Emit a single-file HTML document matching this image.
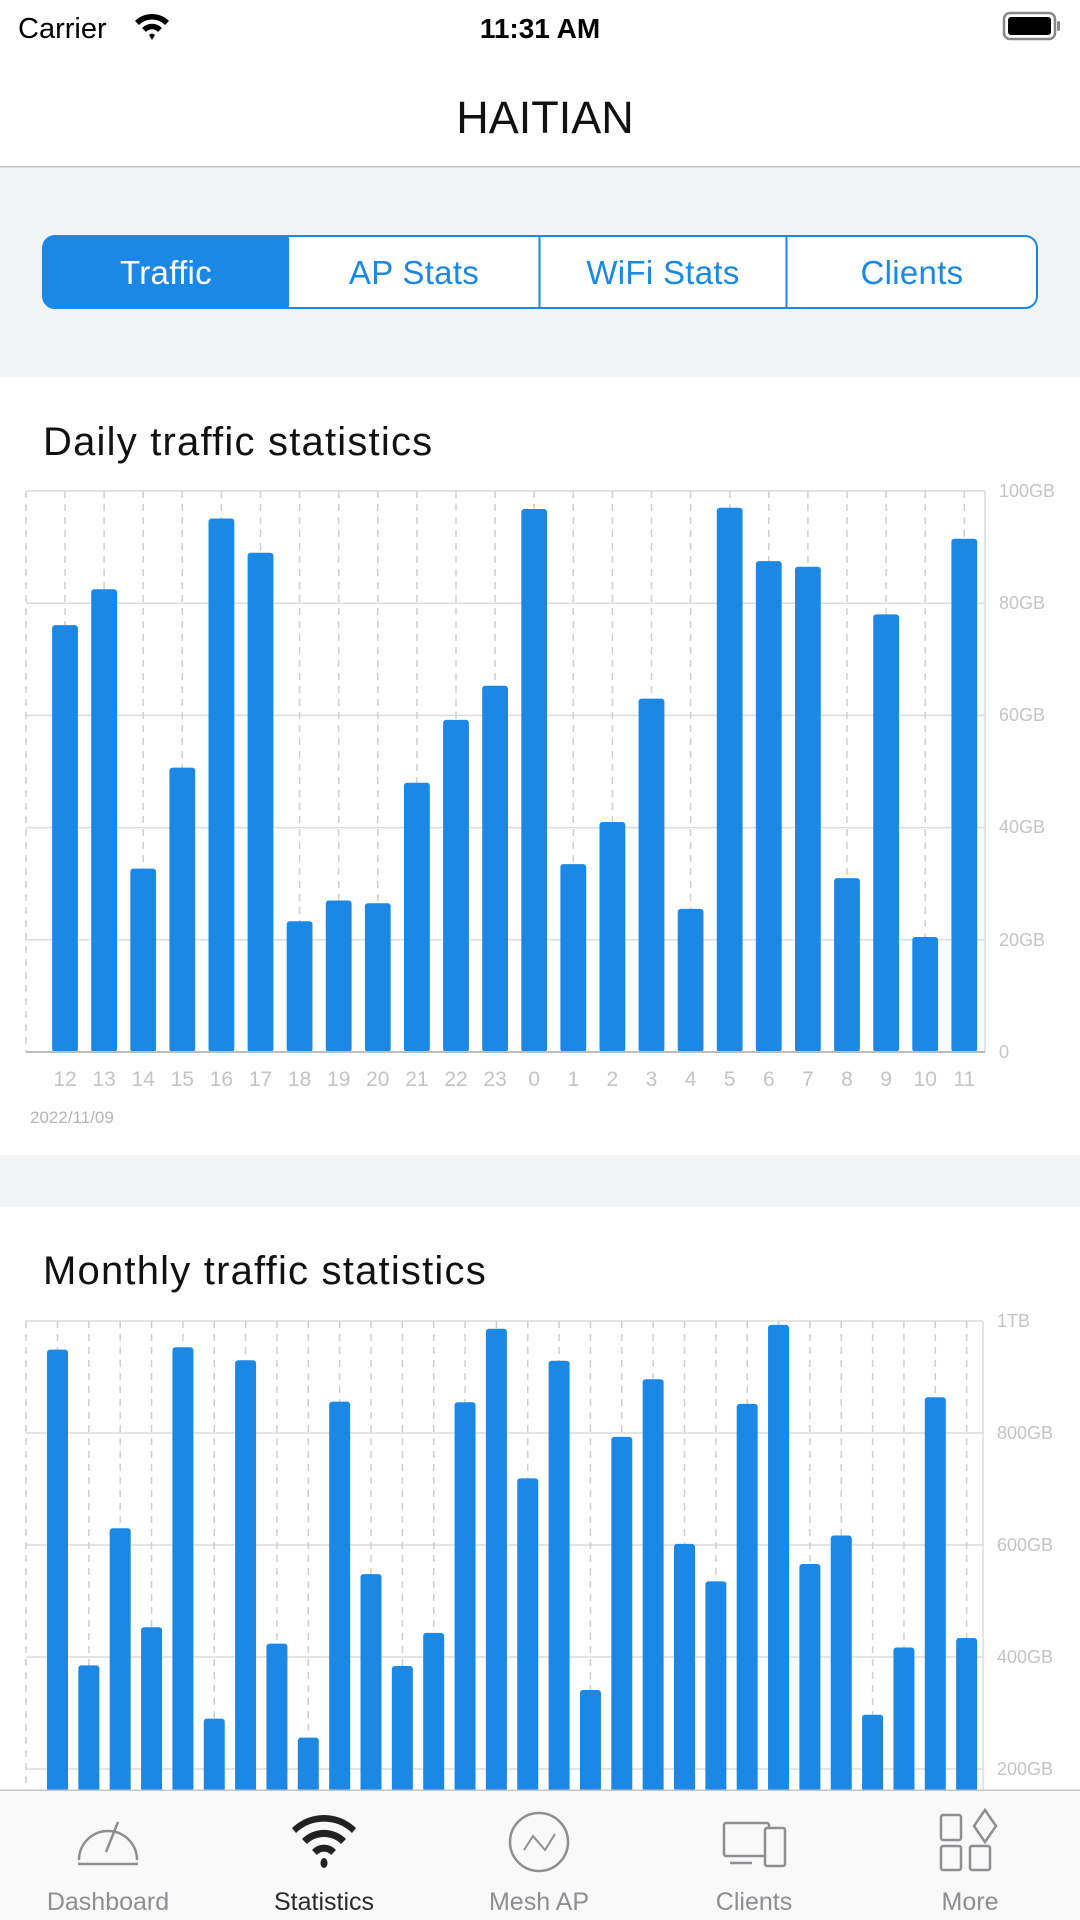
<!DOCTYPE html>
<html><head><meta charset="utf-8"><style>
html,body{margin:0;padding:0;background:#fff;width:1080px;height:1920px;overflow:hidden}
svg{display:block}
text{font-family:"Liberation Sans",sans-serif}
</style></head><body>
<svg width="1080" height="1920" viewBox="0 0 1080 1920" xmlns="http://www.w3.org/2000/svg">
<rect width="1080" height="1920" fill="#fff"/>
<text x="18" y="38" font-size="29" fill="#000">Carrier</text>
<g fill="#000" transform="translate(152,27)">
<path d="M-17,-6 A24,24 0 0 1 17,-6 L13,-2 A18,18 0 0 0 -13,-2Z"/>
<path d="M-10,1 A14,14 0 0 1 10,1 L6,5 A8,8 0 0 0 -6,5Z"/>
<path d="M-3,8 L0,13 L3,8 A4,4 0 0 0 -3,8Z"/>
</g>
<text x="540" y="38" font-size="28" font-weight="bold" text-anchor="middle" fill="#000">11:31 AM</text>
<rect x="1004" y="13" width="51" height="26" rx="6" fill="none" stroke="#888" stroke-width="2.5"/>
<rect x="1008" y="17" width="43" height="18" rx="3" fill="#000"/>
<rect x="1057" y="21" width="3" height="10" rx="1.5" fill="#888"/>
<text x="545" y="133" font-size="45" text-anchor="middle" fill="#111">HAITIAN</text>
<rect x="0" y="167" width="1080" height="210" fill="#f3f4f6"/>
<rect x="0" y="166" width="1080" height="1.5" fill="#c6c6c8"/>
<rect x="43" y="236" width="994" height="72" rx="12" fill="#fff" stroke="#1c88e5" stroke-width="2"/>
<path d="M55,236 L289,236 L289,308 L55,308 A12,12 0 0 1 43,296 L43,248 A12,12 0 0 1 55,236Z" fill="#1c88e5"/>
<rect x="538.5" y="236" width="2" height="72" fill="#1c88e5"/>
<rect x="785.5" y="236" width="2" height="72" fill="#1c88e5"/>
<g font-size="33" text-anchor="middle" fill="#1c88e5" letter-spacing="0.3">
<text x="166" y="284" fill="#fff">Traffic</text>
<text x="414" y="284">AP Stats</text>
<text x="663" y="284">WiFi Stats</text>
<text x="912" y="284">Clients</text>
</g>
<text x="43" y="455" font-size="40" fill="#111" letter-spacing="1.2">Daily traffic statistics</text>
<g stroke="#dcdcdc" stroke-width="1.5">
<line x1="26" y1="491" x2="985" y2="491"/><line x1="26" y1="603.2" x2="985" y2="603.2"/>
<line x1="26" y1="715.4" x2="985" y2="715.4"/><line x1="26" y1="827.6" x2="985" y2="827.6"/>
<line x1="26" y1="939.8" x2="985" y2="939.8"/>
<line x1="985" y1="491" x2="985" y2="1052"/>
</g>
<g stroke="#cfcfcf" stroke-width="1.5" stroke-dasharray="7,6">
<line x1="26" y1="491" x2="26" y2="1052"/>
<line x1="65" y1="491" x2="65" y2="1052"/><line x1="104.1" y1="491" x2="104.1" y2="1052"/><line x1="143.2" y1="491" x2="143.2" y2="1052"/><line x1="182.3" y1="491" x2="182.3" y2="1052"/><line x1="221.4" y1="491" x2="221.4" y2="1052"/><line x1="260.5" y1="491" x2="260.5" y2="1052"/><line x1="299.6" y1="491" x2="299.6" y2="1052"/><line x1="338.7" y1="491" x2="338.7" y2="1052"/><line x1="377.8" y1="491" x2="377.8" y2="1052"/><line x1="416.9" y1="491" x2="416.9" y2="1052"/><line x1="456" y1="491" x2="456" y2="1052"/><line x1="495.1" y1="491" x2="495.1" y2="1052"/><line x1="534.2" y1="491" x2="534.2" y2="1052"/><line x1="573.3" y1="491" x2="573.3" y2="1052"/><line x1="612.4" y1="491" x2="612.4" y2="1052"/><line x1="651.5" y1="491" x2="651.5" y2="1052"/><line x1="690.6" y1="491" x2="690.6" y2="1052"/><line x1="729.7" y1="491" x2="729.7" y2="1052"/><line x1="768.8" y1="491" x2="768.8" y2="1052"/><line x1="807.9" y1="491" x2="807.9" y2="1052"/><line x1="847" y1="491" x2="847" y2="1052"/><line x1="886.1" y1="491" x2="886.1" y2="1052"/><line x1="925.2" y1="491" x2="925.2" y2="1052"/><line x1="964.3" y1="491" x2="964.3" y2="1052"/>
</g>
<g fill="#1c88e5">
<rect x="52.1" y="625.1" width="25.8" height="426.9" rx="3"/>
<rect x="91.2" y="589.2" width="25.8" height="462.8" rx="3"/>
<rect x="130.3" y="868.6" width="25.8" height="183.4" rx="3"/>
<rect x="169.4" y="767.6" width="25.8" height="284.4" rx="3"/>
<rect x="208.5" y="518.5" width="25.8" height="533.5" rx="3"/>
<rect x="247.6" y="552.7" width="25.8" height="499.3" rx="3"/>
<rect x="286.7" y="921.3" width="25.8" height="130.7" rx="3"/>
<rect x="325.8" y="900.5" width="25.8" height="151.5" rx="3"/>
<rect x="364.9" y="903.3" width="25.8" height="148.7" rx="3"/>
<rect x="404" y="782.7" width="25.8" height="269.3" rx="3"/>
<rect x="443.1" y="719.9" width="25.8" height="332.1" rx="3"/>
<rect x="482.2" y="685.7" width="25.8" height="366.3" rx="3"/>
<rect x="521.3" y="509" width="25.8" height="543" rx="3"/>
<rect x="560.4" y="864.1" width="25.8" height="187.9" rx="3"/>
<rect x="599.5" y="822" width="25.8" height="230" rx="3"/>
<rect x="638.6" y="698.6" width="25.8" height="353.4" rx="3"/>
<rect x="677.7" y="908.9" width="25.8" height="143.1" rx="3"/>
<rect x="716.8" y="507.8" width="25.8" height="544.2" rx="3"/>
<rect x="755.9" y="561.1" width="25.8" height="490.9" rx="3"/>
<rect x="795" y="566.7" width="25.8" height="485.3" rx="3"/>
<rect x="834.1" y="878.1" width="25.8" height="173.9" rx="3"/>
<rect x="873.2" y="614.4" width="25.8" height="437.6" rx="3"/>
<rect x="912.3" y="937" width="25.8" height="115" rx="3"/>
<rect x="951.4" y="538.7" width="25.8" height="513.3" rx="3"/>
</g>
<line x1="26" y1="1052" x2="985" y2="1052" stroke="#bdbdbd" stroke-width="2"/>
<g font-size="18" fill="#c4c4c8">
<text x="999" y="497">100GB</text><text x="999" y="609">80GB</text><text x="999" y="721">60GB</text>
<text x="999" y="833">40GB</text><text x="999" y="946">20GB</text><text x="999" y="1058">0</text>
</g>
<g font-size="21" fill="#c4c4c8" text-anchor="middle">
<text x="65" y="1086">12</text><text x="104.1" y="1086">13</text><text x="143.2" y="1086">14</text><text x="182.3" y="1086">15</text><text x="221.4" y="1086">16</text><text x="260.5" y="1086">17</text><text x="299.6" y="1086">18</text><text x="338.7" y="1086">19</text><text x="377.8" y="1086">20</text><text x="416.9" y="1086">21</text><text x="456" y="1086">22</text><text x="495.1" y="1086">23</text><text x="534.2" y="1086">0</text><text x="573.3" y="1086">1</text><text x="612.4" y="1086">2</text><text x="651.5" y="1086">3</text><text x="690.6" y="1086">4</text><text x="729.7" y="1086">5</text><text x="768.8" y="1086">6</text><text x="807.9" y="1086">7</text><text x="847" y="1086">8</text><text x="886.1" y="1086">9</text><text x="925.2" y="1086">10</text><text x="964.3" y="1086">11</text>
</g>
<text x="30" y="1123" font-size="17" fill="#b5b5b8">2022/11/09</text>
<rect x="0" y="1155" width="1080" height="52" fill="#f3f4f6"/>
<text x="43" y="1284" font-size="40" fill="#111" letter-spacing="1.2">Monthly traffic statistics</text>
<g stroke="#dcdcdc" stroke-width="1.5">
<line x1="26" y1="1321" x2="983" y2="1321"/><line x1="26" y1="1433" x2="983" y2="1433"/>
<line x1="26" y1="1545" x2="983" y2="1545"/><line x1="26" y1="1657" x2="983" y2="1657"/>
<line x1="26" y1="1769" x2="983" y2="1769"/>
<line x1="983" y1="1321" x2="983" y2="1881"/>
</g>
<g stroke="#cfcfcf" stroke-width="1.5" stroke-dasharray="7,6">
<line x1="26" y1="1321" x2="26" y2="1881"/>
<line x1="57.5" y1="1321" x2="57.5" y2="1881"/><line x1="88.85" y1="1321" x2="88.85" y2="1881"/><line x1="120.2" y1="1321" x2="120.2" y2="1881"/><line x1="151.55" y1="1321" x2="151.55" y2="1881"/><line x1="182.9" y1="1321" x2="182.9" y2="1881"/><line x1="214.25" y1="1321" x2="214.25" y2="1881"/><line x1="245.6" y1="1321" x2="245.6" y2="1881"/><line x1="276.95" y1="1321" x2="276.95" y2="1881"/><line x1="308.3" y1="1321" x2="308.3" y2="1881"/><line x1="339.65" y1="1321" x2="339.65" y2="1881"/><line x1="371" y1="1321" x2="371" y2="1881"/><line x1="402.35" y1="1321" x2="402.35" y2="1881"/><line x1="433.7" y1="1321" x2="433.7" y2="1881"/><line x1="465.05" y1="1321" x2="465.05" y2="1881"/><line x1="496.4" y1="1321" x2="496.4" y2="1881"/><line x1="527.75" y1="1321" x2="527.75" y2="1881"/><line x1="559.1" y1="1321" x2="559.1" y2="1881"/><line x1="590.45" y1="1321" x2="590.45" y2="1881"/><line x1="621.8" y1="1321" x2="621.8" y2="1881"/><line x1="653.15" y1="1321" x2="653.15" y2="1881"/><line x1="684.5" y1="1321" x2="684.5" y2="1881"/><line x1="715.85" y1="1321" x2="715.85" y2="1881"/><line x1="747.2" y1="1321" x2="747.2" y2="1881"/><line x1="778.55" y1="1321" x2="778.55" y2="1881"/><line x1="809.9" y1="1321" x2="809.9" y2="1881"/><line x1="841.25" y1="1321" x2="841.25" y2="1881"/><line x1="872.6" y1="1321" x2="872.6" y2="1881"/><line x1="903.95" y1="1321" x2="903.95" y2="1881"/><line x1="935.3" y1="1321" x2="935.3" y2="1881"/><line x1="966.65" y1="1321" x2="966.65" y2="1881"/>
</g>
<g fill="#1c88e5">
<rect x="47" y="1349.6" width="21" height="540" rx="3"/>
<rect x="78.35" y="1665.4" width="21" height="240" rx="3"/>
<rect x="109.7" y="1528.2" width="21" height="380" rx="3"/>
<rect x="141.05" y="1627.3" width="21" height="280" rx="3"/>
<rect x="172.4" y="1347.3" width="21" height="560" rx="3"/>
<rect x="203.75" y="1718.6" width="21" height="200" rx="3"/>
<rect x="235.1" y="1360.2" width="21" height="560" rx="3"/>
<rect x="266.45" y="1643.6" width="21" height="260" rx="3"/>
<rect x="297.8" y="1737.6" width="21" height="160" rx="3"/>
<rect x="329.15" y="1401.6" width="21" height="500" rx="3"/>
<rect x="360.5" y="1574.1" width="21" height="330" rx="3"/>
<rect x="391.85" y="1666" width="21" height="240" rx="3"/>
<rect x="423.2" y="1632.9" width="21" height="270" rx="3"/>
<rect x="454.55" y="1402.2" width="21" height="500" rx="3"/>
<rect x="485.9" y="1328.8" width="21" height="570" rx="3"/>
<rect x="517.25" y="1478.4" width="21" height="420" rx="3"/>
<rect x="548.6" y="1360.8" width="21" height="540" rx="3"/>
<rect x="579.95" y="1690" width="21" height="220" rx="3"/>
<rect x="611.3" y="1436.9" width="21" height="460" rx="3"/>
<rect x="642.65" y="1379.2" width="21" height="520" rx="3"/>
<rect x="674" y="1543.9" width="21" height="360" rx="3"/>
<rect x="705.35" y="1581.4" width="21" height="320" rx="3"/>
<rect x="736.7" y="1403.9" width="21" height="500" rx="3"/>
<rect x="768.05" y="1324.9" width="21" height="570" rx="3"/>
<rect x="799.4" y="1564" width="21" height="340" rx="3"/>
<rect x="830.75" y="1535.5" width="21" height="370" rx="3"/>
<rect x="862.1" y="1714.7" width="21" height="200" rx="3"/>
<rect x="893.45" y="1647.5" width="21" height="260" rx="3"/>
<rect x="924.8" y="1397.2" width="21" height="500" rx="3"/>
<rect x="956.15" y="1638" width="21" height="270" rx="3"/>
</g>
<g font-size="18" fill="#c4c4c8">
<text x="997" y="1327">1TB</text><text x="997" y="1439">800GB</text><text x="997" y="1551">600GB</text>
<text x="997" y="1663">400GB</text><text x="997" y="1775">200GB</text>
</g>
<rect x="0" y="1790" width="1080" height="130" fill="#f9f9f9"/>
<rect x="0" y="1789.5" width="1080" height="1.5" fill="#c6c6c8"/>
<g fill="none" stroke="#8e8e93" stroke-width="2.5">
<path d="M79,1860 A29,29 0 1 1 137,1860"/>
<line x1="78" y1="1864" x2="138" y2="1864"/>
<line x1="106" y1="1852" x2="118" y2="1822"/>
<circle cx="539" cy="1842" r="29"/>
<polyline points="524,1850 533,1836 545,1850 555,1834" stroke-width="2"/>
<rect x="724" y="1823" width="45" height="33" rx="2"/>
<line x1="730" y1="1863" x2="752" y2="1863"/>
<rect x="765" y="1828" width="20" height="38" rx="2" fill="#f9f9f9"/>
<rect x="941" y="1815" width="20" height="25" rx="2"/>
<path d="M985,1810 L996,1826 L985,1842 L974,1826Z"/>
<rect x="941" y="1846" width="20" height="24" rx="2"/>
<rect x="970" y="1846" width="20" height="24" rx="2"/>
</g>
<g fill="#222">
<path d="M292,1828 A46,46 0 0 1 356,1828 L352,1833 A40,40 0 0 0 296,1833Z"/>
<path d="M302,1839 A31,31 0 0 1 346,1839 L341,1844 A24,24 0 0 0 307,1844Z"/>
<path d="M312,1850 A16,16 0 0 1 336,1850 L331,1855 A9,9 0 0 0 317,1855Z"/>
<ellipse cx="324" cy="1863" rx="3.5" ry="5"/>
</g>
<g font-size="25" text-anchor="middle" fill="#8e8e93">
<text x="108" y="1910">Dashboard</text>
<text x="324" y="1910" fill="#2a2a2a">Statistics</text>
<text x="539" y="1910">Mesh AP</text>
<text x="754" y="1910">Clients</text>
<text x="970" y="1910">More</text>
</g>
</svg>
</body></html>
